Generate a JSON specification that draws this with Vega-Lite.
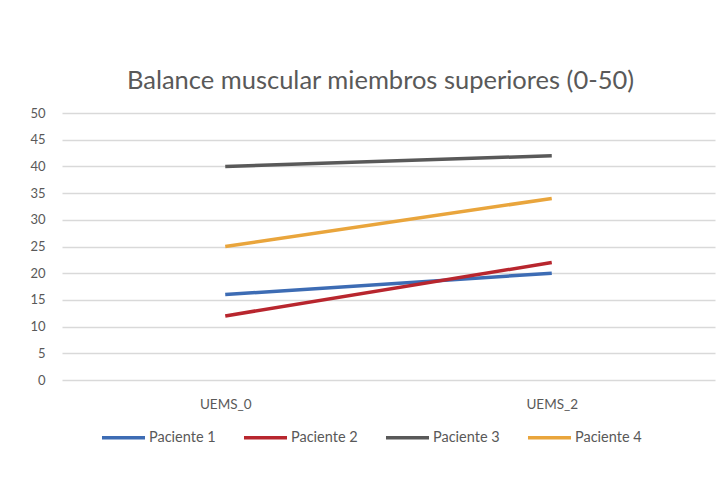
{
  "$schema": "https://vega.github.io/schema/vega-lite/v6.json",
  "autosize": "none",
  "width": 653,
  "height": 267,
  "padding": {"left": 62, "top": 113, "right": 11, "bottom": 114},
  "background": "#ffffff",
  "title": {
    "text": "Balance muscular miembros superiores (0-50)",
    "fontSize": 25.5,
    "font": "Lato",
    "fontWeight": "normal",
    "color": "#595959",
    "anchor": "middle",
    "dx": -8,
    "offset": 13
  },
  "data": {
    "values": [
      {"medida": "UEMS_0", "paciente": "Paciente 1", "valor": 16},
      {"medida": "UEMS_2", "paciente": "Paciente 1", "valor": 20},
      {"medida": "UEMS_0", "paciente": "Paciente 2", "valor": 12},
      {"medida": "UEMS_2", "paciente": "Paciente 2", "valor": 22},
      {"medida": "UEMS_0", "paciente": "Paciente 3", "valor": 40},
      {"medida": "UEMS_2", "paciente": "Paciente 3", "valor": 42},
      {"medida": "UEMS_0", "paciente": "Paciente 4", "valor": 25},
      {"medida": "UEMS_2", "paciente": "Paciente 4", "valor": 34}
    ]
  },
  "mark": {"type": "line", "strokeWidth": 3.5, "strokeCap": "butt"},
  "encoding": {
    "x": {
      "field": "medida",
      "type": "nominal",
      "scale": {"type": "point", "padding": 0.5},
      "axis": {
        "title": null,
        "labelAngle": 0,
        "domain": false,
        "ticks": false,
        "labelPadding": 17,
        "labelFontSize": 13.5,
        "labelFont": "Lato",
        "labelColor": "#595959"
      }
    },
    "y": {
      "field": "valor",
      "type": "quantitative",
      "scale": {"domain": [0, 50], "nice": false},
      "axis": {
        "title": null,
        "values": [0, 5, 10, 15, 20, 25, 30, 35, 40, 45, 50],
        "domain": false,
        "ticks": false,
        "labelPadding": 17,
        "labelFontSize": 13,
        "labelFont": "Lato",
        "labelColor": "#595959",
        "gridColor": "#d9d9d9",
        "gridWidth": 1.5
      }
    },
    "color": {
      "field": "paciente",
      "type": "nominal",
      "scale": {
        "domain": ["Paciente 1", "Paciente 2", "Paciente 3", "Paciente 4"],
        "range": ["#3d6cb4", "#b8262e", "#595959", "#e9a53c"]
      },
      "legend": {
        "title": null,
        "orient": "none",
        "direction": "horizontal",
        "legendX": 38,
        "legendY": 301,
        "symbolType": "stroke",
        "symbolSize": 1850,
        "symbolStrokeWidth": 3.5,
        "labelOffset": 2,
        "columnPadding": 20,
        "labelFontSize": 14.5,
        "labelFont": "Lato",
        "labelColor": "#595959"
      }
    }
  },
  "config": {"view": {"stroke": null}}
}
